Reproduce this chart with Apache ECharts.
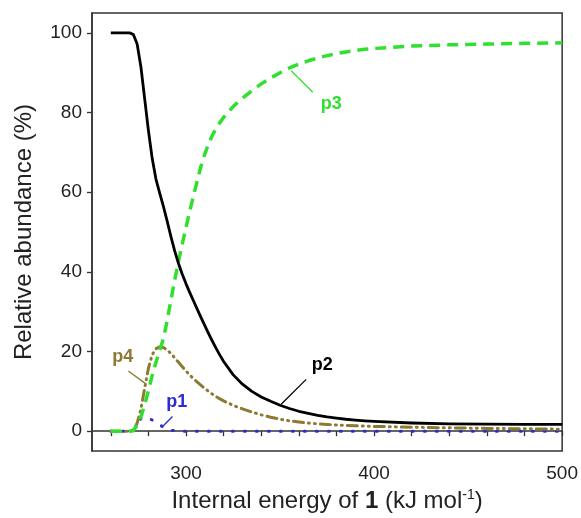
<!DOCTYPE html>
<html>
<head>
<meta charset="utf-8">
<script src="https://cdn.jsdelivr.net/npm/echarts@6/dist/echarts.min.js"></script>
<style>
html,body{margin:0;padding:0;background:#fff;}
#chart{width:581px;height:518px;}
</style>
</head>
<body>
<div id="chart"></div>
<script>
// ---- data ----
const energy = [260,262,264,266,268,270,272,274,276,278,280,282,284,286,288,290,292,294,296,298,300,302,304,306,308,310,312,314,316,318,320,
                325,330,335,340,345,350,355,360,365,370,375,380,385,390,395,400,420,440,460,480,500];
const p2 = [100,100,100,100,100,100,99.6,97.2,91.5,83.5,75.5,68.5,63.3,59.8,56.4,52.7,48.8,45.2,42.1,39.4,37.0,34.8,32.7,30.6,28.5,26.5,24.5,22.6,20.8,19.1,17.5,
            14.2,11.8,10.0,8.6,7.5,6.5,5.7,5.0,4.5,4.0,3.6,3.3,3.0,2.8,2.6,2.45,2.05,1.85,1.75,1.7,1.7];
const p3 = [0,0,0,0,0,0,0.1,1.5,3.6,6.6,10.2,14.0,17.3,20.2,23.3,27.8,33.0,38.0,42.6,47.0,51.2,55.3,59.2,63.0,66.6,69.6,72.2,74.3,76.0,77.5,78.8,
            81.5,83.6,85.5,87.2,88.7,90.0,91.2,92.2,93.0,93.7,94.3,94.8,95.2,95.6,95.9,96.1,96.7,97.0,97.2,97.4,97.5];
const p4 = [0,0,0,0,0,0,0.3,2.0,5.5,10.8,15.8,19.2,20.7,21.2,21.0,20.4,19.5,18.4,17.3,16.2,15.1,14.1,13.2,12.3,11.5,10.7,10.0,9.3,8.7,8.1,7.6,
            6.5,5.6,4.8,4.1,3.5,3.0,2.6,2.3,2.05,1.85,1.7,1.55,1.45,1.35,1.3,1.2,1.0,0.85,0.7,0.6,0.5];
const p1 = [0,0,0,0,0,0,0.2,1.5,3.2,3.6,3.3,2.8,2.2,1.6,1.0,0.5,0.25,0.1,0.05,0,0,0,0,0,0,0,0,0,0,0,0,
            0,0,0,0,0,0,0,0,0,0,0,0,0,0,0,0,0,0,0,0,0];

const xTicks = [260,280,300,320,340,360,380,400,420,440,460,480,500];
const xLabels = [300,400,500];
const yTicks = [0,20,40,60,80,100];

// annotation anchors in data units: [labelX, labelY, lineX1, lineY1, lineX2, lineY2]
const annP1 = [295.1, 7.25, 287.8, 1.3, 292.8, 3.7];
const annP2 = [372.5, 16.5, 350.6, 6.75, 363.9, 13];
const annP3 = [377.2, 82.25, 355.9, 90.5, 367.4, 85.1];
const annP4 = [266.4, 18.5, 269.3, 15.1, 279, 11.75];

const FONT = '"Liberation Sans", Arial, sans-serif';
const C = {p1:'#2b2bd0', p2:'#000000', p3:'#2fe02f', p4:'#8c7a33'};

function pairs(ys){ return energy.map((x,i)=>[x, ys[i]]); }
function ann(name, a, color){
  return {
    markLine: {
      silent: true, animation: false, symbol: ['none','none'],
      label: {show:false},
      lineStyle: {type:'solid', width:1.3, color: color},
      data: [[{coord:[a[2],a[3]]},{coord:[a[4],a[5]]}]]
    },
    markPoint: {
      silent: true, animation: false, symbol: 'circle', symbolSize: 0,
      label: {show:true, position:'inside', formatter: name, color: color, fontWeight:'bold', fontSize:18, fontFamily: FONT},
      data: [{coord:[a[0],a[1]], value: name}]
    }
  };
}
function series(name, ys, color, width, dash, z, a, cap){
  return Object.assign({
    name: name, type:'line', data: pairs(ys), showSymbol:false, symbol:'none',
    smooth: false, z: z,
    lineStyle: {color: color, width: width, type: dash, cap: cap || 'butt', join:'round'},
    emphasis: {disabled:true}
  }, ann(name, a, color));
}

const chart = echarts.init(document.getElementById('chart'), null, {renderer:'canvas'});
chart.setOption({
  animation: false,
  backgroundColor: '#fff',
  grid: {left:92, right:17, top:13, bottom:66, show:true, borderColor:'#333', borderWidth:1.5, backgroundColor:'transparent'},
  xAxis: {
    type:'value', min:250, max:500,
    name: 'Internal energy of {b|1} (kJ mol{sup|-1})',
    nameLocation:'middle', nameGap:34,
    nameTextStyle: {fontSize:24, color:'#222', fontFamily: FONT,
      rich: {b:{fontSize:24, fontWeight:'bold', color:'#222', fontFamily: FONT},
             sup:{fontSize:14, color:'#222', fontFamily: FONT, padding:[0,0,12,0]}}},
    axisLine: {show:true, lineStyle:{color:'#333', width:1.5}},
    axisTick: {show:true, inside:false, length:5, lineStyle:{color:'#333', width:1.3}, customValues: xTicks},
    axisLabel: {show:true, margin:13, fontSize:19, color:'#222', fontFamily: FONT, customValues: xLabels},
    splitLine: {show:false}
  },
  yAxis: {
    type:'value', min:-5, max:105,
    name: 'Relative abundance (%)',
    nameLocation:'middle', nameGap:56, nameRotate:90,
    nameTextStyle: {fontSize:24, color:'#222', fontFamily: FONT},
    axisLine: {show:true, lineStyle:{color:'#333', width:1.5}},
    axisTick: {show:true, inside:false, length:5, lineStyle:{color:'#333', width:1.3}, customValues: yTicks},
    axisLabel: {show:true, margin:10, fontSize:19, color:'#222', fontFamily: FONT, customValues: yTicks},
    splitLine: {show:false}
  },
  series: [
    series('p1', p1, C.p1, 3, [1,11], 2, annP1, 'round'),
    series('p4', p4, C.p4, 3, [10,5,1,5,1,5], 3, annP4, 'round'),
    series('p3', p3, C.p3, 3.5, [11,7], 4, annP3),
    series('p2', p2, C.p2, 2.8, 'solid', 5, annP2)
  ]
});
</script>
</body>
</html>
